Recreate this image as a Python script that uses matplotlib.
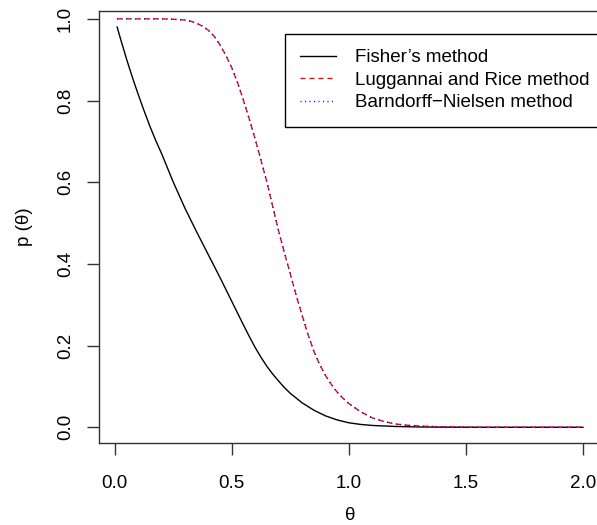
import numpy as np
import matplotlib
matplotlib.use("Agg")
import matplotlib.pyplot as plt

plt.rcParams["font.family"] = ["Liberation Sans", "DejaVu Sans"]

# ── data ──────────────────────────────────────────────────────────────────────
theta_fisher = [0.01, 0.025, 0.05, 0.075, 0.10, 0.125, 0.15, 0.175, 0.20, 0.25,
                0.30, 0.35, 0.40, 0.45, 0.50, 0.55, 0.575, 0.60, 0.625, 0.65,
                0.675, 0.70, 0.725, 0.75, 0.80, 0.85, 0.90, 0.95, 1.00, 1.05,
                1.10, 1.20, 1.30, 1.40, 1.60, 2.00]
p_fisher = [0.980, 0.950, 0.902, 0.857, 0.815, 0.775, 0.737, 0.702, 0.670, 0.600,
            0.536, 0.478, 0.422, 0.366, 0.308, 0.250, 0.222, 0.195, 0.171, 0.149,
            0.130, 0.113, 0.097, 0.083, 0.060, 0.042, 0.028, 0.018, 0.011, 0.007,
            0.0045, 0.002, 0.0008, 0.0003, 0.0, 0.0]

theta_lr = [0.01, 0.10, 0.20, 0.25, 0.30, 0.325, 0.35, 0.375, 0.40, 0.425,
            0.45, 0.475, 0.50, 0.525, 0.55, 0.575, 0.60, 0.625, 0.65, 0.675,
            0.70, 0.725, 0.75, 0.775, 0.80, 0.825, 0.85, 0.875, 0.90, 0.925,
            0.95, 0.975, 1.00, 1.05, 1.10, 1.15, 1.20, 1.25, 1.30, 1.40,
            1.50, 1.60, 2.00]
p_lr = [1.000, 1.000, 1.000, 0.999, 0.997, 0.994, 0.989, 0.982, 0.972, 0.957,
        0.936, 0.910, 0.880, 0.843, 0.800, 0.754, 0.705, 0.653, 0.600, 0.540,
        0.480, 0.427, 0.375, 0.323, 0.275, 0.228, 0.187, 0.154, 0.127, 0.105,
        0.086, 0.071, 0.058, 0.038, 0.023, 0.014, 0.008, 0.005, 0.003, 0.001,
        0.0003, 0.0, 0.0]

# Barndorff-Nielsen is indistinguishable from Lugannani-Rice at this scale
theta_bn = theta_lr
p_bn = p_lr

x_ticks = [0.0, 0.5, 1.0, 1.5, 2.0]
y_ticks = [0.0, 0.2, 0.4, 0.6, 0.8, 1.0]

# ── figure ────────────────────────────────────────────────────────────────────
W, H = 597, 525
fig = plt.figure(figsize=(W / 100, H / 100), dpi=100)
ax = fig.add_axes([98.5 / W, (H - 443.3) / H, 503.1 / W, 432.3 / H])

px = 0.72  # one pixel in points
FS = 13.5

ax.plot(theta_fisher, p_fisher, color="black", lw=1.0,
        label="Fisher\u2019s method", zorder=3)
ax.plot(theta_lr, p_lr, color="red", lw=1.0, dashes=(5 * px, 4 * px),
        label="Luggannai and Rice method", zorder=4)
ax.plot(theta_bn, p_bn, color="blue", lw=1.0, dashes=(1 * px, 3.5 * px),
        label="Barndorff\u2212Nielsen method", zorder=5)

ax.set_xlim(-0.0696, 2.0796)
ax.set_ylim(-0.0392, 1.0192)

ax.set_xticks(x_ticks)
ax.set_xticklabels([f"{v:.1f}" for v in x_ticks])
ax.set_yticks(y_ticks)
ax.set_yticklabels([f"{v:.1f}" for v in y_ticks], rotation=90, va="center")

ax.tick_params(direction="out", length=12 * px, width=1.0, color="#333",
               labelsize=FS, labelcolor="black")
ax.tick_params(axis="x", pad=14)
ax.tick_params(axis="y", pad=9)

for s in ax.spines.values():
    s.set_linewidth(1.0)
    s.set_color("#333")

ax.set_xlabel("\u03b8", fontsize=FS, labelpad=11)
ax.set_ylabel("p (\u03b8)", fontsize=FS, labelpad=17)

ax.legend(loc="upper left", bbox_to_anchor=(285 / W, 1 - 34 / H),
          bbox_transform=fig.transFigure, borderaxespad=0,
          fontsize=FS, frameon=True, fancybox=False, framealpha=1,
          edgecolor="black", handlelength=1.9, handletextpad=1.0,
          labelspacing=0.28, borderpad=0.82)
ax.get_legend().get_frame().set_linewidth(1.0)

fig.savefig("out.png", dpi=100)
plt.close(fig)
